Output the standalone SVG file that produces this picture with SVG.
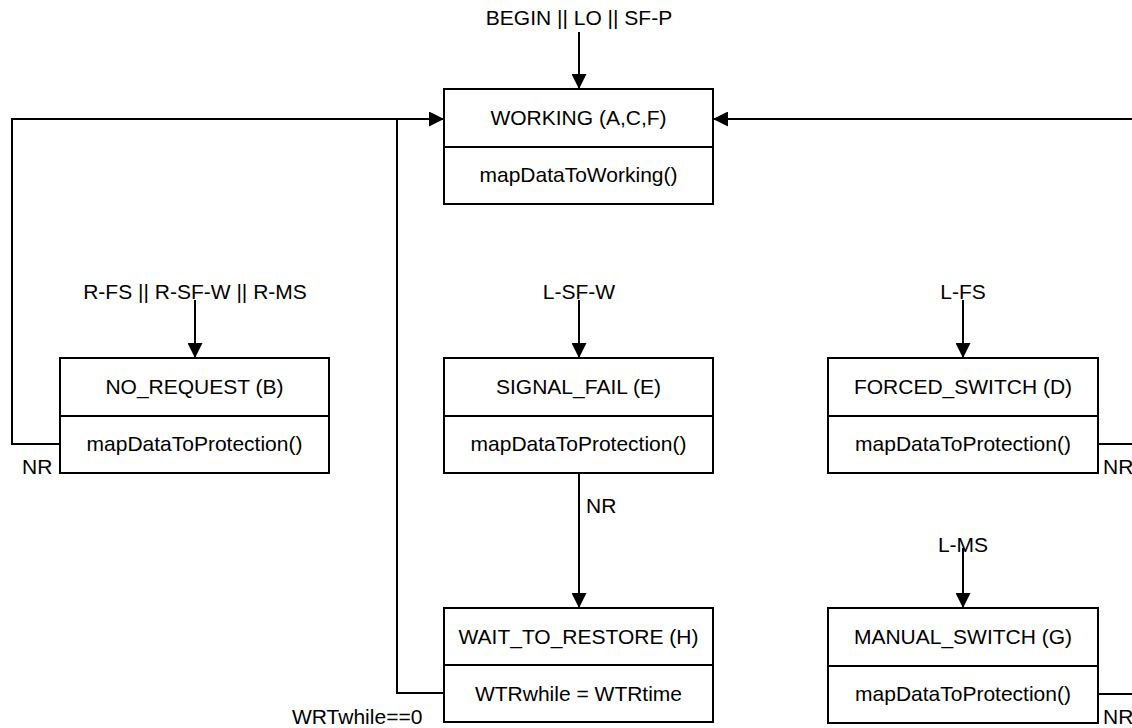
<svg xmlns="http://www.w3.org/2000/svg" width="1132" height="728" viewBox="0 0 1132 728">
<defs>
<marker id="ah" markerWidth="15" markerHeight="15" refX="15" refY="7.5" orient="auto" markerUnits="userSpaceOnUse">
<path d="M0,0 L15,7.5 L0,15 Z" fill="#000"/>
</marker>
<style>
text{font-family:"Liberation Sans",Arial,sans-serif;font-size:21px;fill:#000}
.c{text-anchor:middle}
.box{fill:#fff;stroke:#000;stroke-width:2}
.ln{fill:none;stroke:#000;stroke-width:2}
</style>
</defs>
<rect width="1132" height="728" fill="#fff"/>
<g id="connectors">
<line class="ln" x1="579" y1="32" x2="579" y2="89" marker-end="url(#ah)"/>
<text class="c" x="579" y="25">BEGIN || LO || SF-P</text>
<polyline class="ln" points="60,444 12,444 12,119 444,119" marker-end="url(#ah)"/>
<text x="22" y="474">NR</text>
<polyline class="ln" points="444,693 397,693 397,119"/>
<text x="292" y="724">WRTwhile==0</text>
<line class="ln" x1="1132" y1="119" x2="713" y2="119" marker-end="url(#ah)"/>
<line class="ln" x1="195" y1="300" x2="195" y2="358" marker-end="url(#ah)"/>
<text class="c" x="195" y="299">R-FS || R-SF-W || R-MS</text>
<line class="ln" x1="579" y1="300" x2="579" y2="358" marker-end="url(#ah)"/>
<text class="c" x="579" y="299">L-SF-W</text>
<line class="ln" x1="963" y1="300" x2="963" y2="358" marker-end="url(#ah)"/>
<text class="c" x="963" y="299">L-FS</text>
<line class="ln" x1="579" y1="473" x2="579" y2="608" marker-end="url(#ah)"/>
<text x="586" y="513">NR</text>
<line class="ln" x1="963" y1="548" x2="963" y2="608" marker-end="url(#ah)"/>
<text class="c" x="963" y="552">L-MS</text>
<line class="ln" x1="1098" y1="444" x2="1132" y2="444"/>
<text x="1103" y="474">NR</text>
<line class="ln" x1="1098" y1="694" x2="1132" y2="694"/>
<text x="1103" y="724">NR</text>
</g>
<g id="working">
<rect class="box" x="444" y="89" width="269" height="115"/>
<line class="ln" x1="444" y1="147" x2="713" y2="147"/>
<text class="c" x="578.5" y="125">WORKING (A,C,F)</text>
<text class="c" x="578.5" y="182">mapDataToWorking()</text>
</g>
<g id="no_request">
<rect class="box" x="60" y="358" width="269" height="115"/>
<line class="ln" x1="60" y1="416" x2="329" y2="416"/>
<text class="c" x="194.5" y="394">NO_REQUEST (B)</text>
<text class="c" x="194.5" y="451">mapDataToProtection()</text>
</g>
<g id="signal_fail">
<rect class="box" x="444" y="358" width="269" height="115"/>
<line class="ln" x1="444" y1="416" x2="713" y2="416"/>
<text class="c" x="578.5" y="394">SIGNAL_FAIL (E)</text>
<text class="c" x="578.5" y="451">mapDataToProtection()</text>
</g>
<g id="forced_switch">
<rect class="box" x="828" y="358" width="270" height="115"/>
<line class="ln" x1="828" y1="416" x2="1098" y2="416"/>
<text class="c" x="963" y="394">FORCED_SWITCH (D)</text>
<text class="c" x="963" y="451">mapDataToProtection()</text>
</g>
<g id="wait_to_restore">
<rect class="box" x="444" y="608" width="269" height="114"/>
<line class="ln" x1="444" y1="665" x2="713" y2="665"/>
<text class="c" x="578.5" y="644">WAIT_TO_RESTORE (H)</text>
<text class="c" x="578.5" y="701">WTRwhile = WTRtime</text>
</g>
<g id="manual_switch">
<rect class="box" x="828" y="608" width="270" height="115"/>
<line class="ln" x1="828" y1="666" x2="1098" y2="666"/>
<text class="c" x="963" y="644">MANUAL_SWITCH (G)</text>
<text class="c" x="963" y="701">mapDataToProtection()</text>
</g>
</svg>
